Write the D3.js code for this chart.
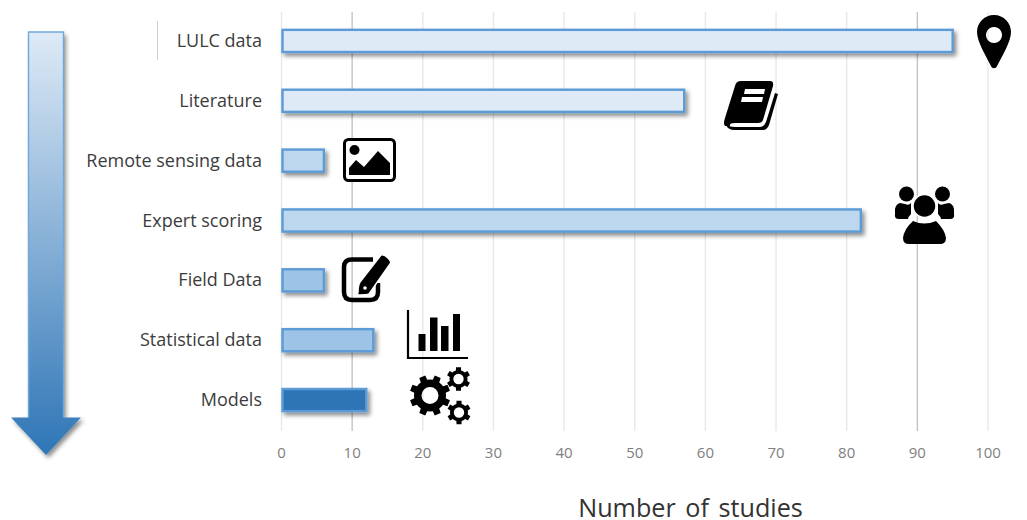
<!DOCTYPE html>
<html>
<head>
<meta charset="utf-8">
<script src="https://cdn.jsdelivr.net/npm/d3@7"></script>
<style>
  html, body { margin: 0; padding: 0; background: #fff; }
  svg { display: block; }
  text { font-family: "Open Sans", Lato, sans-serif; }
</style>
</head>
<body>
<svg id="chart" width="1027" height="520"></svg>
<script>
// Data sources used by the reviewed studies, top to bottom
const categories = ["LULC data", "Literature", "Remote sensing data", "Expert scoring", "Field Data", "Statistical data", "Models"];
const studyCounts = [95, 57, 6, 82, 6, 13, 12];
const barFills = ["#deeaf6", "#deeaf6", "#bdd7ee", "#bdd7ee", "#9dc3e6", "#9dc3e6", "#2e75b6"];
const tickValues = [0, 10, 20, 30, 40, 50, 60, 70, 80, 90, 100];
const strongGridlines = [10, 90];
const axisTitle = "Number of studies";

const svg = d3.select("#chart");
const x = d3.scaleLinear().domain([0, 100]).range([281.5, 988]);
const y = d3.scaleBand().domain(categories).range([11, 430]).paddingInner(0.63).paddingOuter(0.315);

const defs = svg.append("defs");
const shadow = defs.append("filter").attr("id", "soft-shadow")
  .attr("x", "-20%").attr("y", "-20%").attr("width", "150%").attr("height", "170%");
shadow.append("feDropShadow").attr("dx", 2.5).attr("dy", 3).attr("stdDeviation", 2)
  .attr("flood-color", "#000").attr("flood-opacity", 0.45);

const arrowFill = defs.append("linearGradient").attr("id", "arrow-fill")
  .attr("gradientUnits", "userSpaceOnUse")
  .attr("x1", 0).attr("x2", 0).attr("y1", 32).attr("y2", 455);
arrowFill.append("stop").attr("offset", 0).attr("stop-color", "#deeaf6");
arrowFill.append("stop").attr("offset", 1).attr("stop-color", "#2e75b6");

// Gridlines
svg.append("g").selectAll("line").data(tickValues).join("line")
  .attr("x1", d => x(d)).attr("x2", d => x(d))
  .attr("y1", 12).attr("y2", 431)
  .attr("stroke", d => strongGridlines.includes(d) ? "#c4c4c4" : "#e8e8e8")
  .attr("stroke-width", 1.4);

// Short rule left of the first category label
svg.append("line").attr("x1", 157.5).attr("x2", 157.5).attr("y1", 21).attr("y2", 60)
  .attr("stroke", "#cfcfcf").attr("stroke-width", 1);

// Vertical ranking arrow
svg.append("path")
  .attr("d", "M28.5,32 H63.5 V417.5 H81 L46,455 L11,417.5 H28.5 Z")
  .attr("fill", "url(#arrow-fill)")
  .attr("filter", "url(#soft-shadow)");
svg.append("path")
  .attr("d", "M28.5,417 V32 H63.5 V417")
  .attr("fill", "none").attr("stroke", "#6fa8dc").attr("stroke-width", 1.4);

// Bars
svg.append("g").selectAll("rect").data(categories).join("rect")
  .attr("x", x(0) + 1)
  .attr("y", d => y(d))
  .attr("width", (d, i) => x(studyCounts[i]) - x(0) - 1)
  .attr("height", y.bandwidth())
  .attr("fill", (d, i) => barFills[i])
  .attr("stroke", "#5b9bd5").attr("stroke-width", 2.4)
  .attr("filter", "url(#soft-shadow)");

// Category labels
svg.append("g").selectAll("text").data(categories).join("text")
  .attr("x", 262)
  .attr("y", d => y(d) + y.bandwidth() / 2 + 6)
  .attr("text-anchor", "end")
  .attr("font-size", 18)
  .attr("fill", "#3c3c3c")
  .text(d => d);

// Value axis tick labels
svg.append("g").selectAll("text").data(tickValues).join("text")
  .attr("x", d => x(d))
  .attr("y", 458)
  .attr("text-anchor", "middle")
  .attr("font-size", 15)
  .attr("fill", "#808080")
  .text(d => d);

// Axis title
svg.append("text").attr("x", 690.5).attr("y", 517)
  .attr("text-anchor", "middle")
  .attr("font-size", 25.2)
  .attr("word-spacing", 3)
  .attr("fill", "#333")
  .text(axisTitle);

// Pictograms beside the bars
const icons = svg.append("g").attr("fill", "#000");

// Location pin
icons.append("path").attr("fill-rule", "evenodd").attr("d",
  "M994,15 C1004,15 1011,23 1011,32 C1011,42 1001,58 997,66 C996,69 992,69 991,66 C987,58 977,42 977,32 C977,23 984,15 994,15 Z" +
  "M994,27 a8,8 0 1,0 0.01,0 Z");

// Book
const book = icons.append("g");
book.append("path").attr("d",
  "M741,81 H770 Q774,81 773,86 L763,120 Q762,123 758,123 H735 Q729,123 730,126 H725 Q723,124 725,118 L735,86 Q736,81 741,81 Z");
book.append("path").attr("d", "M726,124 Q727,130 735,130 H763 Q767,130 769,125 L778,94 L775,93 L766,122 Q764,127 760,127 H735 Q729,127 726,124 Z");
book.append("path").attr("fill", "#fff").attr("d", "M745,89 H765 L764,94 H744 Z");
book.append("path").attr("fill", "#fff").attr("d", "M742,97 H763 L762,102 H741 Z");

// Picture frame
const picture = icons.append("g");
picture.append("rect").attr("x", 344.5).attr("y", 139.5).attr("width", 50).attr("height", 41).attr("rx", 4)
  .attr("fill", "#fff").attr("stroke", "#000").attr("stroke-width", 3);
picture.append("circle").attr("cx", 354.5).attr("cy", 150).attr("r", 5);
picture.append("path").attr("d", "M349,175 V168 L356,160 L364,167 L378,151 L390,163 V175 Z");

// Group of people
const people = icons.append("g");
people.append("circle").attr("cx", 906.5).attr("cy", 194).attr("r", 7.5);
people.append("circle").attr("cx", 942.5).attr("cy", 194).attr("r", 7.5);
people.append("path").attr("d", "M895,209 Q896,204 900,203 L905,204 Q909,206 911,203 V214 Q908,217 908,219 H899 Q894,219 895,214 Z");
people.append("path").attr("d", "M954,209 Q953,204 949,203 L944,204 Q940,206 938,203 V214 Q941,217 941,219 H950 Q955,219 954,214 Z");
people.append("circle").attr("cx", 924.5).attr("cy", 206).attr("r", 11.5).attr("stroke", "#fff").attr("stroke-width", 1.5);
people.append("path").attr("d", "M913,221 Q924,226 936,221 Q945,230 946,238 Q946,244 940,244 H909 Q903,244 903,238 Q904,229 913,221 Z");

// Note with pencil
const note = icons.append("g");
note.append("path").attr("fill", "none").attr("stroke", "#000").attr("stroke-width", 4.5)
  .attr("d", "M373,259.5 H352 Q344,259.5 344,267 V292 Q344,300 352,300 H370 Q378,300 378,292 V283");
note.append("path").attr("stroke", "#fff").attr("stroke-width", 1.5).attr("d",
  "M381,255 Q384,254 388,258 Q392,262 390,264 L369,294 Q367,295 359,295 Q357,295 358,292 Q358,285 360,282 Z");
note.append("circle").attr("cx", 365).attr("cy", 288).attr("r", 1.8).attr("fill", "#fff");

// Small column chart
const columns = icons.append("g");
columns.append("path").attr("fill", "none").attr("stroke", "#000").attr("stroke-width", 2.2)
  .attr("d", "M408,310 V358 H468");
columns.append("rect").attr("x", 418.5).attr("y", 334).attr("width", 7).attr("height", 17);
columns.append("rect").attr("x", 430).attr("y", 317.5).attr("width", 7.5).attr("height", 33.5);
columns.append("rect").attr("x", 441).attr("y", 326).attr("width", 7.5).attr("height", 25);
columns.append("rect").attr("x", 453).attr("y", 314).attr("width", 7).attr("height", 37);

// Builds a gear outline around the given centre
function gearPath(cx, cy, outer, root, hole, teeth) {
  const outline = [];
  const step = 2 * Math.PI / teeth;
  for (let i = 0; i < teeth; i++) {
    const a = i * step + step / 2;
    [[-0.5, root], [-0.28, root], [-0.2, outer], [0.2, outer], [0.28, root], [0.5, root]].forEach(([k, r]) => {
      outline.push([cx + r * Math.cos(a + k * step), cy + r * Math.sin(a + k * step)]);
    });
  }
  const rim = "M" + outline.map(p => p[0].toFixed(2) + "," + p[1].toFixed(2)).join("L") + "Z";
  return rim + `M${cx + hole},${cy}A${hole},${hole} 0 1,0 ${cx - hole},${cy}A${hole},${hole} 0 1,0 ${cx + hole},${cy}Z`;
}
const gears = [[430, 395.5, 20.5, 16, 8.5, 8], [458.5, 379, 12, 9, 5.2, 6], [459, 412.5, 12, 9, 5.2, 6]];
icons.append("g").selectAll("path").data(gears).join("path")
  .attr("fill-rule", "evenodd")
  .attr("d", d => gearPath(...d));
</script>
</body>
</html>
